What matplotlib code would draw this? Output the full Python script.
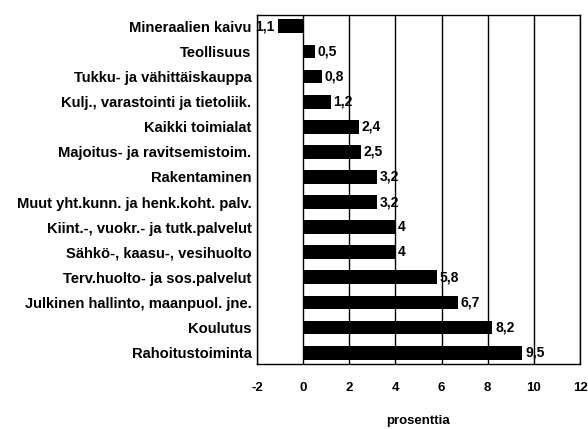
import matplotlib
matplotlib.use("Agg")
import matplotlib.pyplot as plt

categories = [
    "Mineraalien kaivu",
    "Teollisuus",
    "Tukku- ja vähittäiskauppa",
    "Kulj., varastointi ja tietoliik.",
    "Kaikki toimialat",
    "Majoitus- ja ravitsemistoim.",
    "Rakentaminen",
    "Muut yht.kunn. ja henk.koht. palv.",
    "Kiint.-, vuokr.- ja tutk.palvelut",
    "Sähkö-, kaasu-, vesihuolto",
    "Terv.huolto- ja sos.palvelut",
    "Julkinen hallinto, maanpuol. jne.",
    "Koulutus",
    "Rahoitustoiminta",
]
values = [-1.1, 0.5, 0.8, 1.2, 2.4, 2.5, 3.2, 3.2, 4, 4, 5.8, 6.7, 8.2, 9.5]
# value labels as printed in the reference (minus sign hidden by the axis)
value_labels = ["1,1", "0,5", "0,8", "1,2", "2,4", "2,5", "3,2", "3,2",
                "4", "4", "5,8", "6,7", "8,2", "9,5"]
xticks = [-2, 0, 2, 4, 6, 8, 10, 12]
xlabel = "prosenttia"

plt.rcParams["font.family"] = ["Liberation Sans", "DejaVu Sans"]

fig = plt.figure(figsize=(5.88, 4.29), dpi=100)
ax = fig.add_axes([257 / 588, 1 - 364 / 429, (580 - 257) / 588, (364 - 15) / 429])

y = list(range(len(categories)))
ax.barh(y, values, height=0.55, color="black", zorder=3)

for yi, v, lab in zip(y, values, value_labels):
    if v < 0:
        ax.annotate(lab, (v, yi), xytext=(-2, 0), textcoords="offset points",
                    ha="right", va="center", fontsize=10, fontweight="bold", zorder=4)
    else:
        ax.annotate(lab, (v, yi), xytext=(2, 0), textcoords="offset points",
                    ha="left", va="center", fontsize=10, fontweight="bold", zorder=4)

ax.set_xlim(-2, 12)
ax.set_ylim(len(categories) - 0.55, -0.45)
ax.set_xticks(xticks)
ax.set_xticklabels([str(t) for t in xticks], fontsize=9.5, fontweight="bold")
ax.set_yticks(y)
ax.set_yticklabels(categories, fontsize=10.6, fontweight="bold")
ax.tick_params(axis="x", length=0, pad=13)
ax.tick_params(axis="y", length=0, pad=4)
ax.xaxis.grid(True, color="black", linewidth=1.0, zorder=0)
ax.set_axisbelow(True)
for s in ax.spines.values():
    s.set_linewidth(1.0)
    s.set_color("black")
fig.text(418 / 588, 1 - 421 / 429, xlabel, ha="center", va="center",
         fontsize=9.5, fontweight="bold")

fig.savefig("out.png", dpi=100)
